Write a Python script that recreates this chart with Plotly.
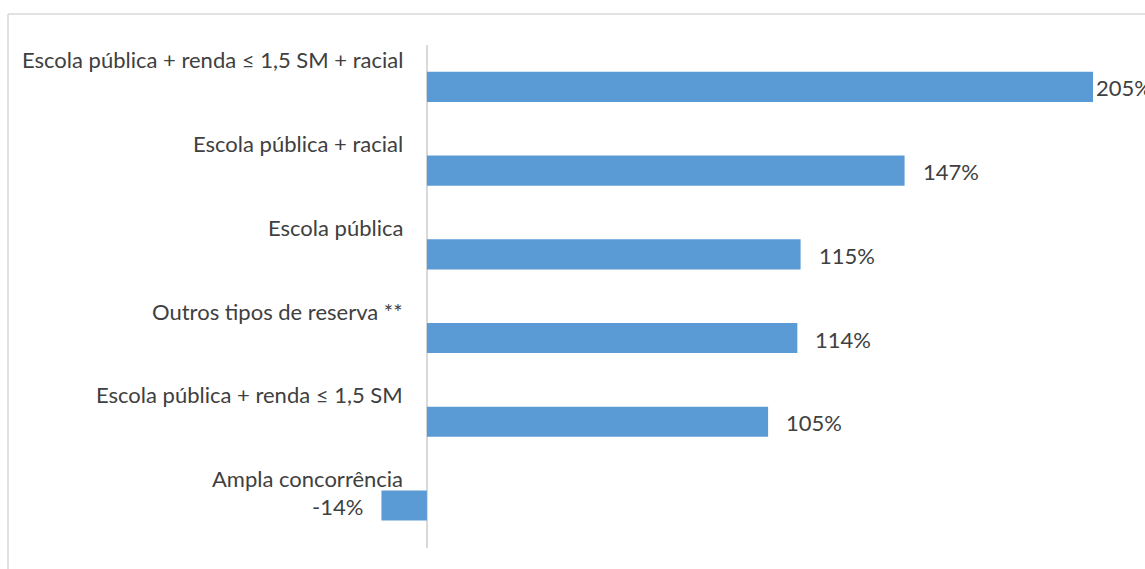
import plotly.graph_objects as go

categories = [
    "Escola pública + renda ≤ 1,5 SM + racial",
    "Escola pública + racial",
    "Escola pública",
    "Outros tipos de reserva **",
    "Escola pública + renda ≤ 1,5 SM ",
    "Ampla concorrência",
]
values = [205, 147, 115, 114, 105, -14]
value_labels = ["205%", "147%", "115%", "114%", "105%", "-14%"]

W, H = 1145, 569
FONT = "Lato"
TXT = "#404040"
BAR = "#5B9BD5"
FS = 22

fig = go.Figure()
fig.add_trace(go.Bar(
    y=categories, x=values, orientation="h",
    marker=dict(color=BAR, line=dict(width=0)),
    width=0.36, hoverinfo="skip",
))

annotations = []
for cat, v, lab in zip(categories, values, value_labels):
    # category label above each bar, right-aligned left of the zero axis
    annotations.append(dict(
        x=0, y=cat, xref="x", yref="y", text=cat.rstrip(), showarrow=False,
        xanchor="right", yanchor="middle", xshift=-22, yshift=27,
        font=dict(family=FONT, size=FS, color=TXT),
    ))
    if v >= 0:
        shift = 16 if v < 200 else 1
        annotations.append(dict(
            x=v, y=cat, xref="x", yref="y", text=lab, showarrow=False,
            xanchor="left", yanchor="middle", xshift=shift, yshift=-1,
            font=dict(family=FONT, size=FS, color=TXT),
        ))
    else:
        annotations.append(dict(
            x=v, y=cat, xref="x", yref="y", text=lab, showarrow=False,
            xanchor="right", yanchor="middle", xshift=-16, yshift=-1,
            font=dict(family=FONT, size=FS, color=TXT),
        ))

fig.update_layout(
    width=W, height=H,
    margin=dict(l=0, r=0, t=45, b=21),
    paper_bgcolor="white", plot_bgcolor="white",
    showlegend=False,
    xaxis=dict(range=[-131.4, 221.0], showgrid=False, showticklabels=False,
               zeroline=True, zerolinecolor="#d9d9d9", zerolinewidth=1.5,
               fixedrange=True),
    yaxis=dict(categoryorder="array", categoryarray=categories, autorange="reversed",
               showticklabels=False, showgrid=False, zeroline=False, fixedrange=True),
    annotations=annotations,
    shapes=[
        dict(type="line", xref="paper", yref="paper", x0=8 / W, x1=1.0,
             y0=(548 - 14) / 503, y1=(548 - 14) / 503,
             line=dict(color="#d9d9d9", width=1.5)),
        dict(type="line", xref="paper", yref="paper", x0=8 / W, x1=8 / W,
             y0=(548 - 14) / 503, y1=(548 - 569) / 503,
             line=dict(color="#d9d9d9", width=1.5)),
    ],
)

fig.write_html("out.html")
